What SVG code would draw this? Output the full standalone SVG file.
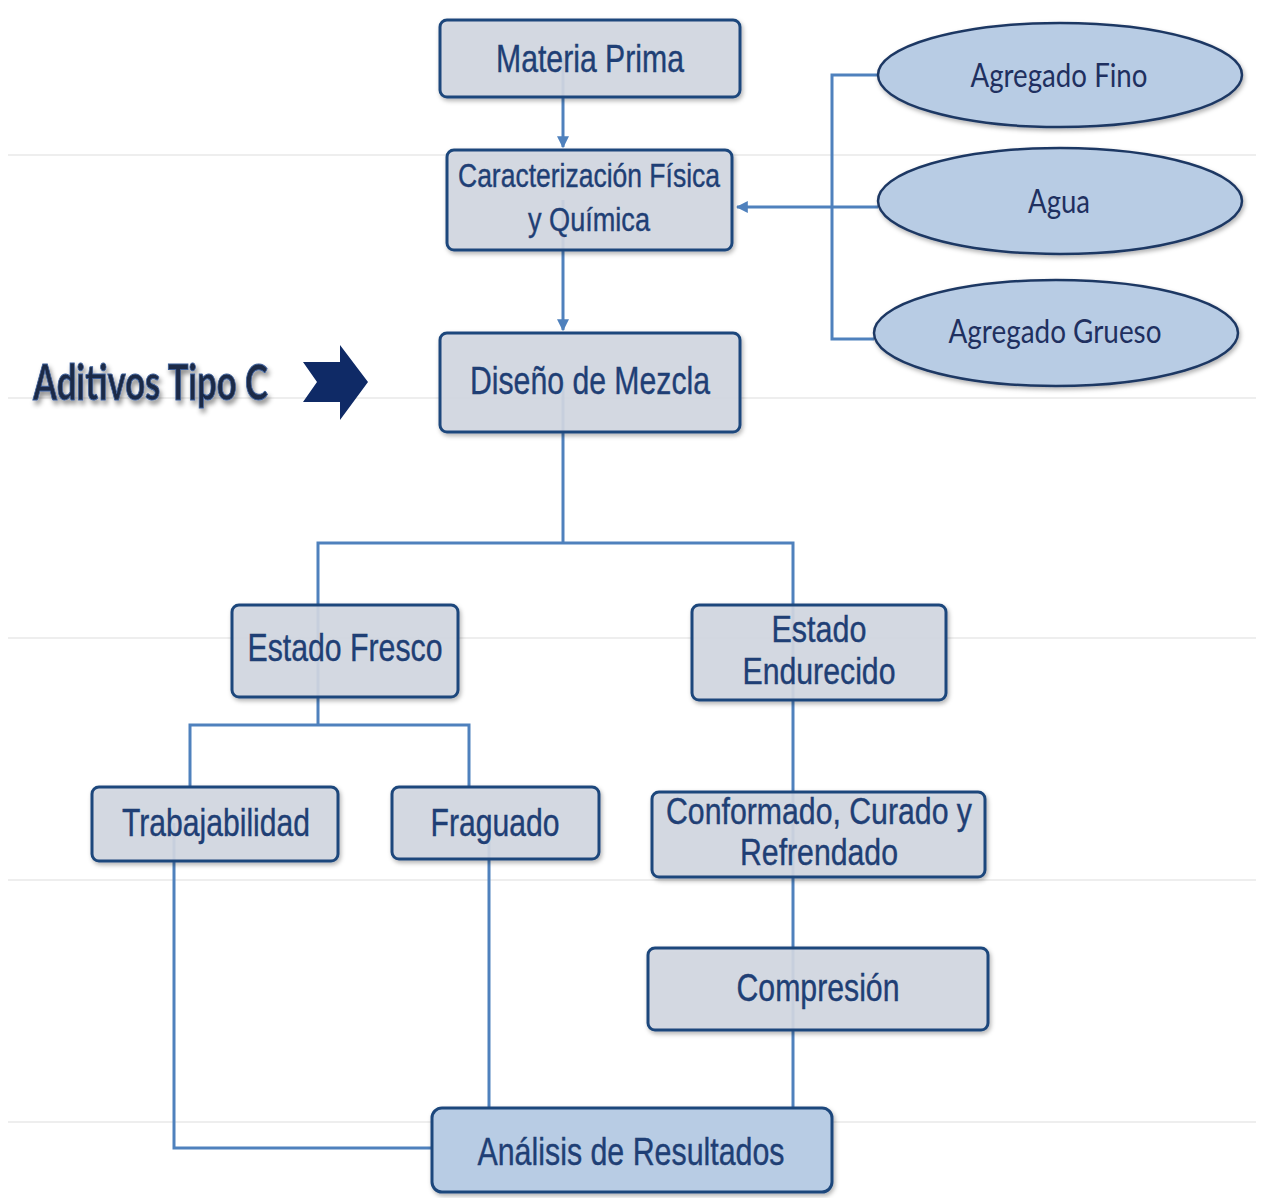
<svg xmlns="http://www.w3.org/2000/svg" width="1262" height="1198" viewBox="0 0 1262 1198">
<defs>
<style>
.box{fill:#d3d8e2;fill-opacity:0.9;stroke:#1f477c;stroke-width:3;filter:url(#sh)}
.res{fill:#b8cce4;stroke:#1f477c;stroke-width:3;filter:url(#sh)}
.ell{fill:#b8cce4;stroke:#1f3864;stroke-width:2.5;filter:url(#sh)}
.t{font-family:"Liberation Sans Narrow","Liberation Sans",Arial,sans-serif;fill:#1f3f75;text-anchor:middle;stroke:#1f3f75;stroke-width:0.4}
.te{font-family:Lato,"Noto Sans","Liberation Sans",sans-serif;fill:#1f3060;text-anchor:middle;font-size:32px}
.c{fill:none;stroke:#4f81bd;stroke-width:3}
.bg{stroke:#eeeeee;stroke-width:2}
</style>
<filter id="sh" x="-10%" y="-10%" width="125%" height="130%">
<feDropShadow dx="1.5" dy="2.5" stdDeviation="2" flood-color="#000" flood-opacity="0.3"/>
</filter>
<filter id="tsh" x="-10%" y="-20%" width="130%" height="160%">
<feDropShadow dx="2" dy="4" stdDeviation="2.5" flood-color="#000" flood-opacity="0.45"/>
</filter>
<marker id="ah" viewBox="0 0 10 10" refX="9" refY="5" markerWidth="4" markerHeight="4" orient="auto-start-reverse" markerUnits="strokeWidth">
<path d="M0,0 L10,5 L0,10 z" fill="#4f81bd"/>
</marker>
</defs>
<rect width="1262" height="1198" fill="#ffffff"/>
<g id="background">
<line class="bg" x1="8" y1="155" x2="1256" y2="155"/>
<line class="bg" x1="8" y1="398" x2="1256" y2="398"/>
<line class="bg" x1="8" y1="638" x2="1256" y2="638"/>
<line class="bg" x1="8" y1="880" x2="1256" y2="880"/>
<line class="bg" x1="8" y1="1122" x2="1256" y2="1122"/>
</g>
<g id="connectors">
<line class="c" x1="563" y1="58" x2="563" y2="147" marker-end="url(#ah)"/>
<line class="c" x1="563" y1="200" x2="563" y2="330" marker-end="url(#ah)"/>
<polyline class="c" points="878,75 832,75 832,339 874,339"/>
<line class="c" x1="878" y1="207" x2="737" y2="207" marker-end="url(#ah)"/>
<line class="c" x1="563" y1="382" x2="563" y2="543"/>
<polyline class="c" points="318,650 318,543 793,543 793,650"/>
<line class="c" x1="318" y1="650" x2="318" y2="725"/>
<polyline class="c" points="190,787 190,725 469,725 469,787"/>
<line class="c" x1="793" y1="650" x2="793" y2="835"/>
<line class="c" x1="793" y1="835" x2="793" y2="989"/>
<line class="c" x1="793" y1="989" x2="793" y2="1108"/>
<line class="c" x1="489" y1="823" x2="489" y2="1108"/>
<polyline class="c" points="174,823 174,1148 432,1148"/>
</g>
<g id="materia-prima">
<rect class="box" x="440" y="20" width="300" height="77" rx="7"/>
<text class="t" x="590" y="72" font-size="39" textLength="188" lengthAdjust="spacingAndGlyphs">Materia Prima</text>
</g>
<g id="caracterizacion">
<rect class="box" x="447" y="150" width="285" height="100" rx="7"/>
<text class="t" x="589" y="187" font-size="33" textLength="262" lengthAdjust="spacingAndGlyphs">Caracterización Física</text>
<text class="t" x="589" y="231" font-size="33" textLength="122" lengthAdjust="spacingAndGlyphs">y Química</text>
</g>
<g id="diseno">
<rect class="box" x="440" y="333" width="300" height="99" rx="7"/>
<text class="t" x="590" y="394" font-size="39" textLength="240" lengthAdjust="spacingAndGlyphs">Diseño de Mezcla</text>
</g>
<g id="agregado-fino">
<ellipse class="ell" cx="1060" cy="75" rx="182" ry="52"/>
<text class="te" x="1059" y="87" textLength="177" lengthAdjust="spacingAndGlyphs">Agregado Fino</text>
</g>
<g id="agua">
<ellipse class="ell" cx="1060" cy="201" rx="182" ry="53"/>
<text class="te" x="1059" y="213" textLength="62" lengthAdjust="spacingAndGlyphs">Agua</text>
</g>
<g id="agregado-grueso">
<ellipse class="ell" cx="1056" cy="333" rx="182" ry="53"/>
<text class="te" x="1055" y="343" textLength="213" lengthAdjust="spacingAndGlyphs">Agregado Grueso</text>
</g>
<g id="aditivos">
<text x="33" y="400" font-family="Lato,'Noto Sans','Liberation Sans',sans-serif" font-weight="bold" font-size="50" fill="#1c2b47" stroke="#3d5f9a" stroke-width="1" filter="url(#tsh)" textLength="235" lengthAdjust="spacingAndGlyphs">Aditivos Tipo C</text>
<polygon points="303,362 340,362 340,345 368,382 340,420 340,402 303,402 317,382" fill="#0f2a66"/>
</g>
<g id="estado-fresco">
<rect class="box" x="232" y="605" width="226" height="92" rx="7"/>
<text class="t" x="345" y="661" font-size="39" textLength="195" lengthAdjust="spacingAndGlyphs">Estado Fresco</text>
</g>
<g id="estado-endurecido">
<rect class="box" x="692" y="605" width="254" height="95" rx="7"/>
<text class="t" x="819" y="642" font-size="36" textLength="95" lengthAdjust="spacingAndGlyphs">Estado</text>
<text class="t" x="819" y="684" font-size="36" textLength="153" lengthAdjust="spacingAndGlyphs">Endurecido</text>
</g>
<g id="trabajabilidad">
<rect class="box" x="92" y="787" width="246" height="74" rx="7"/>
<text class="t" x="216" y="836" font-size="38" textLength="188" lengthAdjust="spacingAndGlyphs">Trabajabilidad</text>
</g>
<g id="fraguado">
<rect class="box" x="392" y="787" width="207" height="72" rx="7"/>
<text class="t" x="495" y="836" font-size="38" textLength="129" lengthAdjust="spacingAndGlyphs">Fraguado</text>
</g>
<g id="conformado">
<rect class="box" x="652" y="792" width="333" height="85" rx="7"/>
<text class="t" x="819" y="824" font-size="36" textLength="306" lengthAdjust="spacingAndGlyphs">Conformado, Curado y</text>
<text class="t" x="819" y="865" font-size="36" textLength="158" lengthAdjust="spacingAndGlyphs">Refrendado</text>
</g>
<g id="compresion">
<rect class="box" x="648" y="948" width="340" height="82" rx="7"/>
<text class="t" x="818" y="1001" font-size="38" textLength="163" lengthAdjust="spacingAndGlyphs">Compresión</text>
</g>
<g id="analisis">
<rect class="res" x="432" y="1108" width="400" height="84" rx="10"/>
<text class="t" x="631" y="1165" font-size="39" textLength="307" lengthAdjust="spacingAndGlyphs">Análisis de Resultados</text>
</g>
</svg>
